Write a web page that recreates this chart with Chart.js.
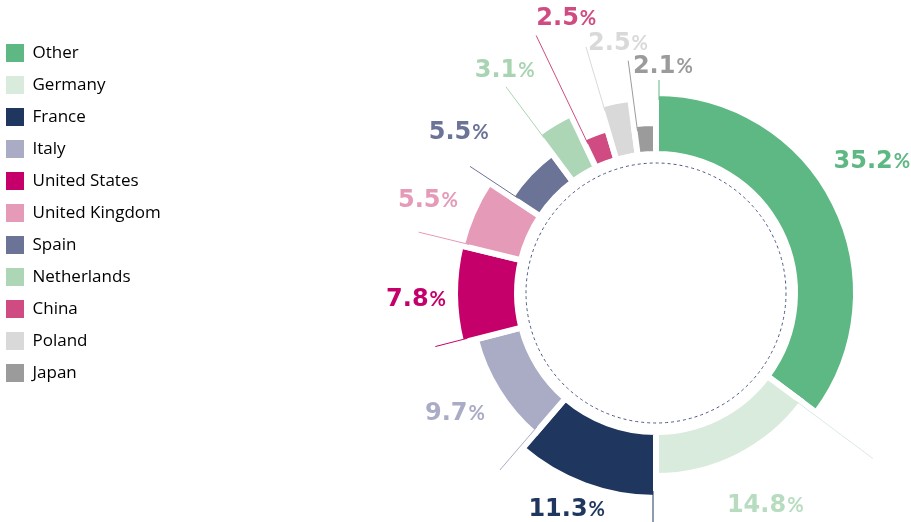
<!DOCTYPE html>
<html>
<head>
<meta charset="utf-8">
<script src="https://cdn.jsdelivr.net/npm/chart.js@4.4.0/dist/chart.umd.min.js"></script>
<style>
html, body { margin: 0; padding: 0; background: #fff; overflow: hidden; }
#wrap { width: 911px; height: 556px; position: relative; }
</style>
</head>
<body>
<div id="wrap"><canvas id="chart"></canvas></div>
<script>
var countries = ['Other', 'Germany', 'France', 'Italy', 'United States', 'United Kingdom',
                 'Spain', 'Netherlands', 'China', 'Poland', 'Japan'];
var shares = [35.2, 14.8, 11.3, 9.7, 7.8, 5.5, 5.5, 3.1, 2.5, 2.5, 2.1];
var shareLabels = ['35.2', '14.8', '11.3', '9.7', '7.8', '5.5', '5.5', '3.1', '2.5', '2.5', '2.1'];

var colors = ['#5db883', '#d9ebdc', '#1f365f', '#aaacc5', '#c5006a', '#e59ab8',
              '#6b7396', '#acd6b5', '#d04b82', '#d9d9d9', '#9b9b9b'];
var labelColors = ['#5db883', '#b7dcc0', '#1f365f', '#aaacc5', '#c5006a', '#e59ab8',
                   '#6b7396', '#a8d4b2', '#d04b82', '#d9d9d9', '#9b9b9b'];

// look of the ring: outer edge of each piece, leader line end, label spot
var ringOuter = [197, 180, 202, 183, 198, 197, 171, 195, 168, 193, 167];
var leaderEnd = [213, 273, 240, 236, 227, 245, 225, 255, 284, 256, 234];
var labelRadius = [254, 237, 232, 233, 240, 247, 256, 271, 291, 255, 229];
var labelTurn = [-5.2, -0.8, 2.3, 1.5, -0.6, -1.0, -3.8, -2.8, 3.1, 3.5, 5.5];

var GAP = 6;

var ringPlugin = {
  id: 'ring',
  beforeInit: function(chart) {
    var fit = chart.legend.fit;
    chart.legend.fit = function() {
      fit.call(this);
      this.width = 409;
    };
  },
  afterDatasetsUpdate: function(chart) {
    chart.getDatasetMeta(0).data.forEach(function(arc, i) {
      arc.outerRadius = ringOuter[i] + GAP / 2;
    });
  },
  beforeDatasetsDraw: function(chart) {
    var arc = chart.getDatasetMeta(0).data[0];
    var ctx = chart.ctx;
    ctx.save();
    ctx.strokeStyle = '#4b5a82';
    ctx.lineWidth = 1;
    ctx.setLineDash([3, 3]);
    ctx.beginPath();
    ctx.arc(arc.x, arc.y, 130, 0, Math.PI * 2);
    ctx.stroke();
    ctx.restore();
  },
  afterDatasetsDraw: function(chart) {
    var ctx = chart.ctx;
    ctx.save();
    chart.getDatasetMeta(0).data.forEach(function(arc, i) {
      var a = arc.startAngle;
      var ux = Math.cos(a), uy = Math.sin(a);
      var px = -uy * GAP / 2, py = ux * GAP / 2;
      ctx.strokeStyle = colors[i];
      ctx.lineWidth = 1;
      ctx.beginPath();
      ctx.moveTo(arc.x + ux * (ringOuter[i] - 4) + px, arc.y + uy * (ringOuter[i] - 4) + py);
      ctx.lineTo(arc.x + ux * leaderEnd[i] + px, arc.y + uy * leaderEnd[i] + py);
      ctx.stroke();

      var m = (arc.startAngle + arc.endAngle) / 2 + labelTurn[i] * Math.PI / 180;
      var lx = arc.x + Math.cos(m) * labelRadius[i];
      var ly = arc.y + Math.sin(m) * labelRadius[i];
      var numFont = 'bold 24px "DejaVu Sans"';
      var pctFont = 'bold 20px Lato';
      ctx.font = numFont;
      var wn = ctx.measureText(shareLabels[i]).width;
      ctx.font = pctFont;
      var wp = ctx.measureText('%').width;
      var x0 = lx - (wn + 1 + wp) / 2;
      ctx.fillStyle = labelColors[i];
      ctx.textBaseline = 'alphabetic';
      ctx.textAlign = 'left';
      ctx.font = numFont;
      ctx.fillText(shareLabels[i], x0, ly + 9);
      ctx.font = pctFont;
      ctx.fillText('%', x0 + wn + 1, ly + 9);
    });
    ctx.restore();
  }
};

window.onload = function() {
  var ctx = document.getElementById('chart').getContext('2d');
  window.theChart = new Chart(ctx, {
    type: 'doughnut',
    data: {
      labels: countries,
      datasets: [{
        data: shares,
        backgroundColor: colors,
        borderColor: '#ffffff',
        borderWidth: GAP
      }]
    },
    options: {
      responsive: true,
      maintainAspectRatio: false,
      animation: false,
      events: [],
      radius: 200,
      cutout: '69.5%',
      layout: { padding: { left: -8, top: 30, right: 0, bottom: 0 } },
      plugins: {
        tooltip: { enabled: false },
        legend: {
          position: 'left',
          align: 'start',
          labels: {
            boxWidth: 18,
            boxHeight: 18,
            padding: 14,
            color: '#4f5f87',
            font: { family: '"Open Sans"', size: 17 },
            generateLabels: function() {
              return countries.map(function(name, i) {
                return { text: name, fillStyle: colors[i], strokeStyle: colors[i],
                         lineWidth: 0, hidden: false, index: i };
              });
            }
          }
        }
      }
    },
    plugins: [ringPlugin]
  });
};
</script>
</body>
</html>
